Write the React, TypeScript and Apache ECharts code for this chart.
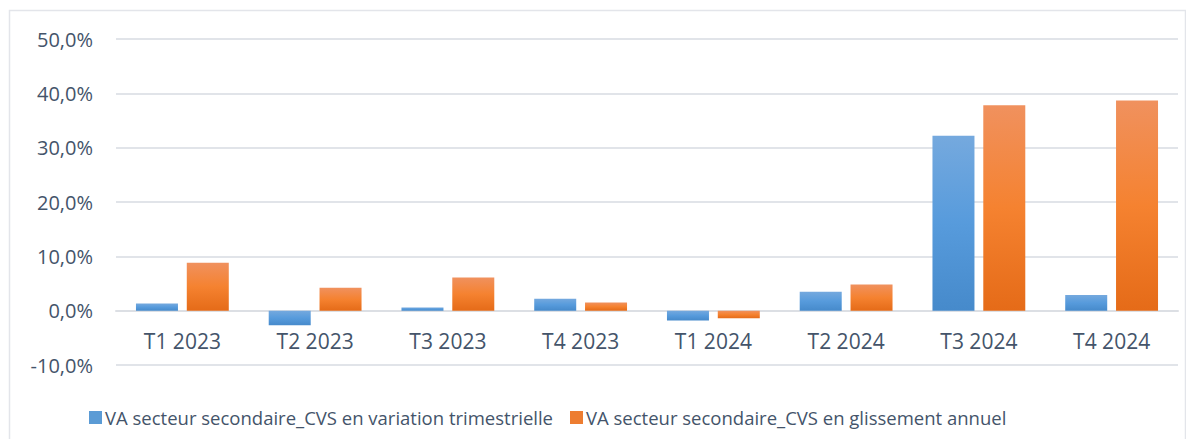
import React, { useEffect, useRef } from "react";
import * as echarts from "echarts";

const categories = ["T1 2023", "T2 2023", "T3 2023", "T4 2023", "T1 2024", "T2 2024", "T3 2024", "T4 2024"];
const quarterlyChange = [1.3, -2.7, 0.6, 2.2, -1.8, 3.5, 32.2, 2.9];
const annualChange = [8.8, 4.2, 6.1, 1.5, -1.4, 4.8, 37.8, 38.7];
const seriesNames = [
  "VA secteur secondaire_CVS en variation trimestrielle",
  "VA secteur secondaire_CVS en glissement annuel",
];

const FONT = "'Open Sans', sans-serif";
const TEXT = "#44546A";
const Y_MIN = -10;
const Y_MAX = 50;

export default function App() {
  const ref = useRef<HTMLDivElement>(null);
  useEffect(() => {
    const chart = echarts.init(ref.current!, undefined, { renderer: "svg" });
    const gridTop = 39;
    const gridBottom = 82;
    const plotH = 447 - gridTop - gridBottom;
    const zeroOffset = (plotH * (0 - Y_MIN)) / (Y_MAX - Y_MIN);
    const blue = new echarts.graphic.LinearGradient(0, 0, 0, 1, [
      { offset: 0, color: "#75a9de" },
      { offset: 0.5, color: "#579bdc" },
      { offset: 1, color: "#468acb" },
    ]);
    const orange = new echarts.graphic.LinearGradient(0, 0, 0, 1, [
      { offset: 0, color: "#f0915e" },
      { offset: 0.5, color: "#f58230" },
      { offset: 1, color: "#e56b18" },
    ]);
    chart.setOption({
      animation: false,
      textStyle: { fontFamily: FONT },
      graphic: [
        {
          type: "rect",
          shape: { x: 9.5, y: 10.5, width: 1176, height: 430 },
          style: { fill: "none", stroke: "#e3e5ea", lineWidth: 1.5 },
          silent: true,
        },
      ],
      grid: { left: 116, right: 16, top: gridTop, bottom: gridBottom },
      legend: {
        bottom: 15,
        left: 84,
        itemWidth: 13,
        itemHeight: 13,
        itemGap: 17,
        icon: "rect",
        textStyle: { color: TEXT, fontSize: 18.5, fontFamily: FONT, padding: [0, 0, 0, -2] },
        data: [
          { name: seriesNames[0], itemStyle: { color: "#5b9bd5" } },
          { name: seriesNames[1], itemStyle: { color: "#ed7d31" } },
        ],
      },
      xAxis: {
        type: "category",
        data: categories,
        offset: -zeroOffset,
        axisLine: { onZero: false, lineStyle: { color: "#dcdfe4", width: 2 } },
        axisTick: { show: false },
        axisLabel: { color: TEXT, fontSize: 21, margin: 20, fontFamily: FONT },
      },
      yAxis: {
        type: "value",
        min: Y_MIN,
        max: Y_MAX,
        interval: 10,
        axisLine: { show: false },
        axisTick: { show: false },
        splitLine: { lineStyle: { color: "#e1e4e9", width: 2 } },
        axisLabel: {
          color: TEXT,
          fontSize: 20,
          margin: 23,
          fontFamily: FONT,
          formatter: (v: number) => v.toFixed(1).replace(".", ",") + "%",
        },
      },
      series: [
        {
          name: seriesNames[0],
          type: "bar",
          data: quarterlyChange,
          barWidth: 42,
          barGap: "21%",
          itemStyle: { color: blue },
        },
        {
          name: seriesNames[1],
          type: "bar",
          data: annualChange,
          barWidth: 42,
          itemStyle: { color: orange },
        },
      ],
    });
    return () => chart.dispose();
  }, []);
  return <div ref={ref} style={{ width: 1194, height: 447, margin: -8 }} />;
}
